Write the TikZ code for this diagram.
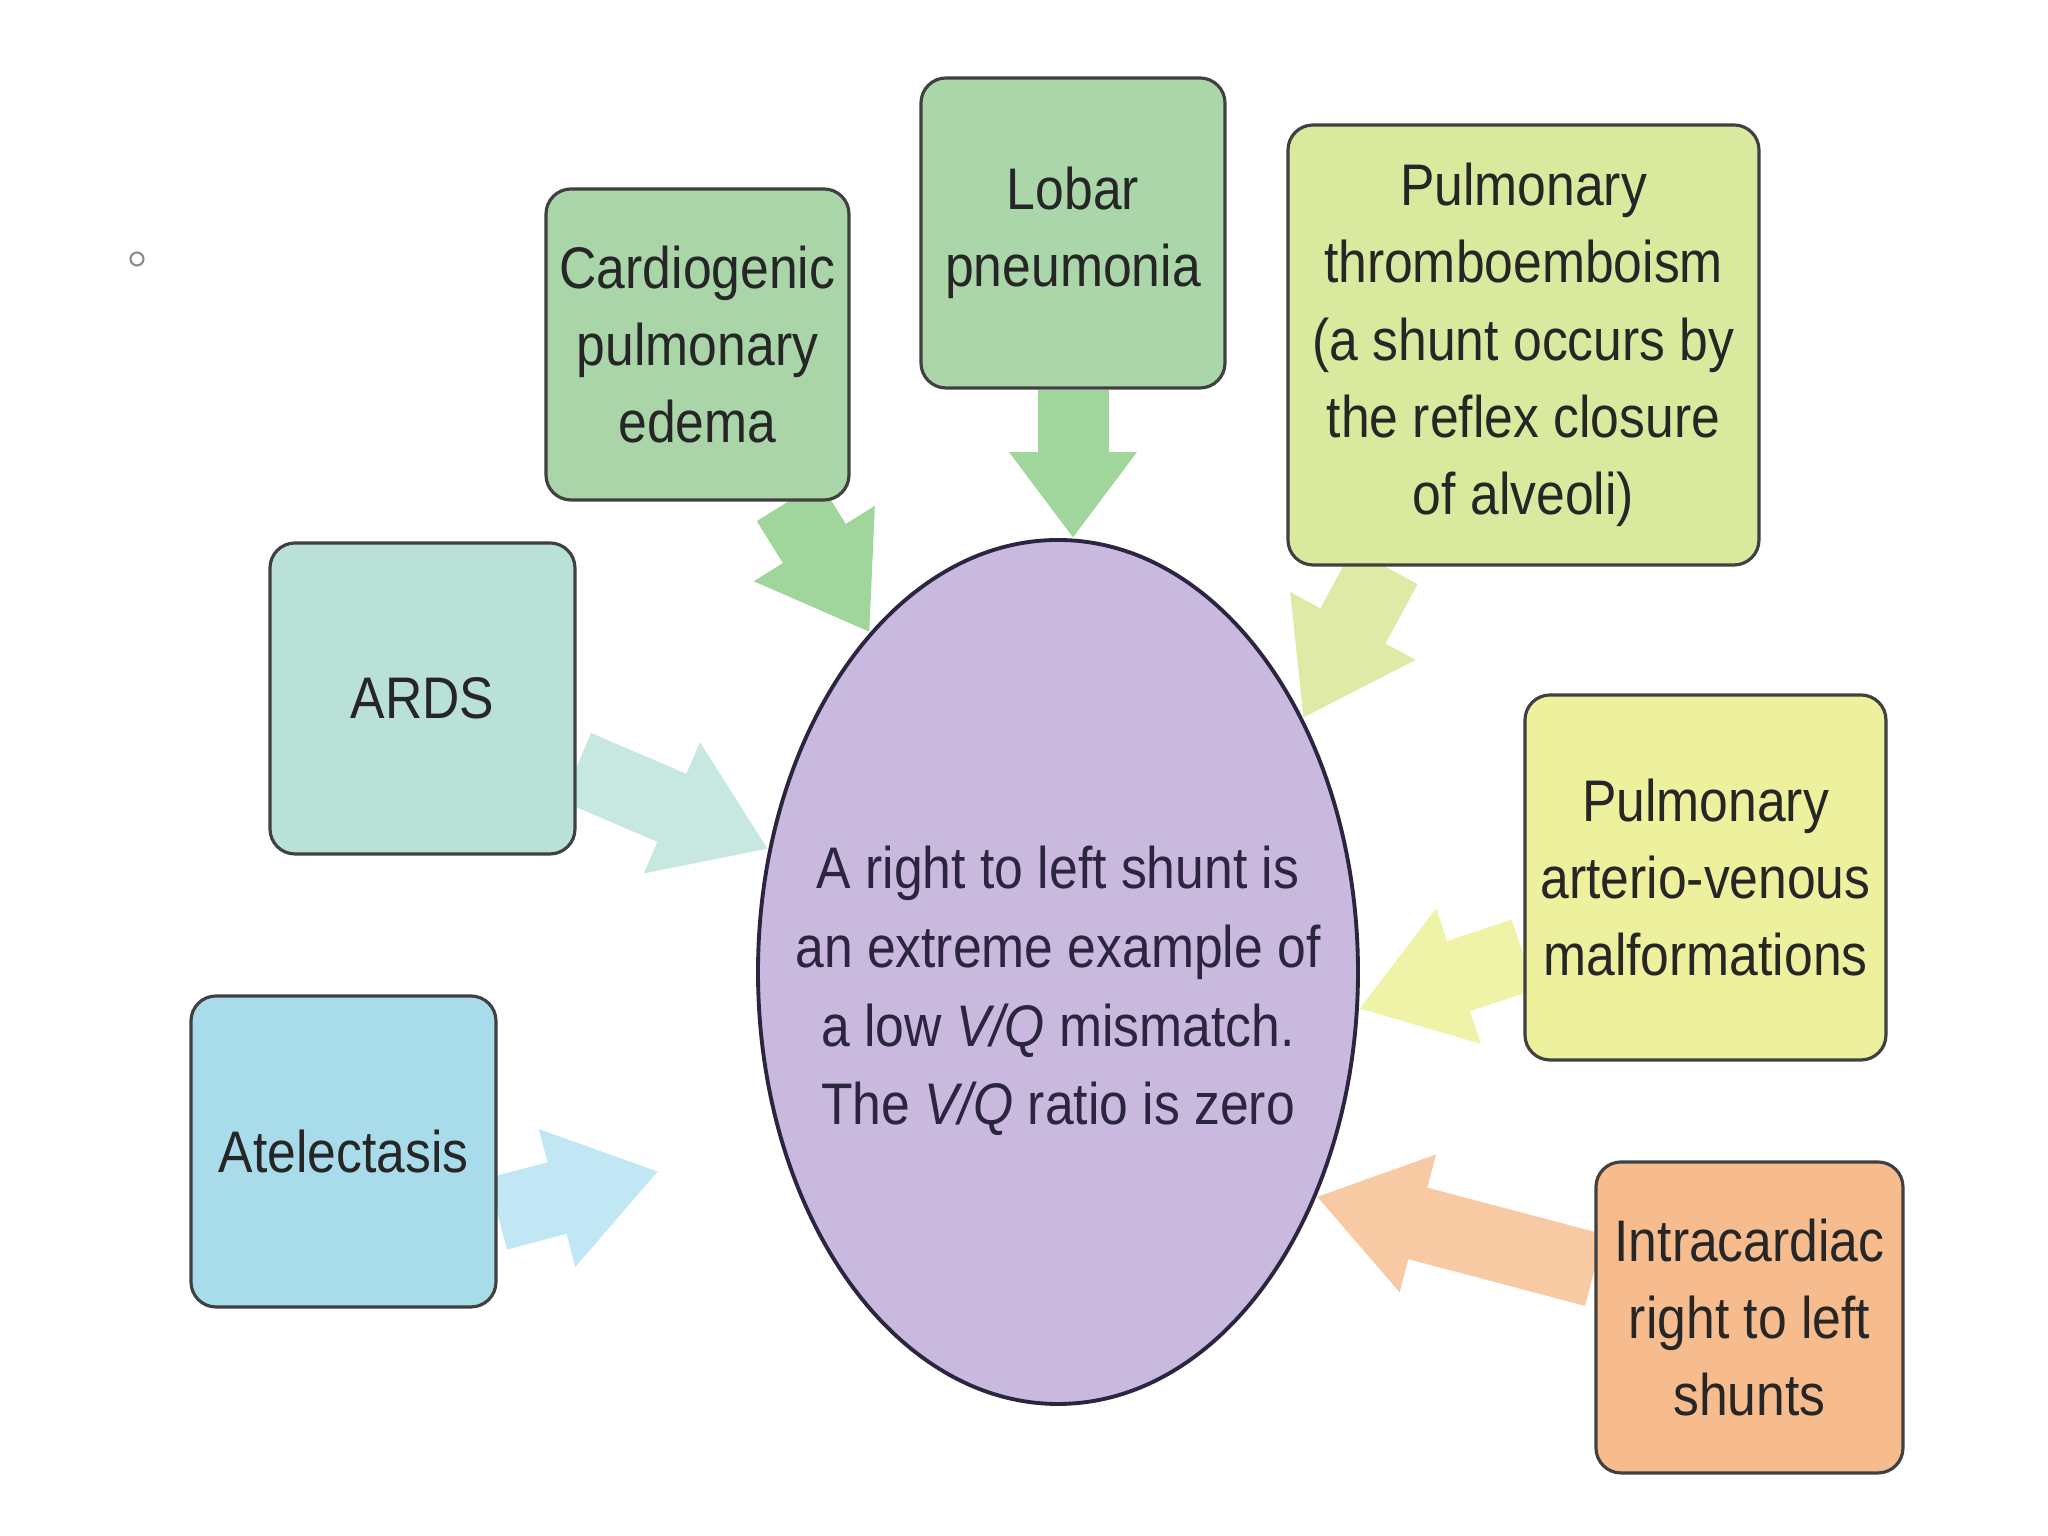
\documentclass[tikz,border=0pt]{standalone}
\usepackage{fontspec}
\setmainfont{Liberation Sans}[FakeStretch=0.88]
\usepackage{tikz}
\usetikzlibrary{arrows.meta,positioning,shapes.geometric,backgrounds}
\definecolor{cardfill}{HTML}{A9D5A9}
\definecolor{lobarfill}{HTML}{ABD6A9}
\definecolor{thrombofill}{HTML}{D9E99D}
\definecolor{ardsfill}{HTML}{B9E1D8}
\definecolor{atelfill}{HTML}{A9DCEB}
\definecolor{pavmfill}{HTML}{EDF09D}
\definecolor{intrafill}{HTML}{F6BC8D}
\definecolor{shuntfill}{HTML}{C9B9DF}
\definecolor{shuntline}{HTML}{2B2540}
\definecolor{arrgreen}{HTML}{A0D59C}
\definecolor{arrlime}{HTML}{DEEAA6}
\definecolor{arrteal}{HTML}{C7E8E1}
\definecolor{arrblue}{HTML}{C1E6F4}
\definecolor{arryellow}{HTML}{EFF3A8}
\definecolor{arrorange}{HTML}{F8CAA3}
\tikzset{
        cause/.style={draw=black!75, line width=0.9pt, rounded corners=2.5mm,
            align=center, text=black!85, inner sep=0pt,
            font=\fontsize{16.7}{22}\selectfont},
        feed/.style={line width=7.4mm, -{Triangle[width=13.5mm,length=10.5mm]}},
    }

\begin{document}
\begin{tikzpicture}
                \useasboundingbox (0,0) rectangle (20.48,15.36);
                \node[circle, draw=black!45, line width=0.6pt, minimum size=1.3mm, inner sep=0pt] (dot) at (1.37,12.77) {};
                % causes round the shunt
                \node[cause, fill=cardfill, minimum width=3.03cm, minimum height=3.11cm] (cardio) at (6.975,11.915) {Cardiogenic\\pulmonary\\edema};
                \node[cause, fill=lobarfill, minimum width=3.04cm, minimum height=3.10cm] (lobar) at (10.73,13.03) {Lobar\\pneumonia};
                \node[cause, fill=thrombofill, minimum width=4.71cm, minimum height=4.40cm] (thrombo) at (15.235,11.91) {Pulmonary\\thromboemboism\\(a shunt occurs by\\the reflex closure\\of alveoli)};
                \node[cause, fill=ardsfill, minimum width=3.05cm, minimum height=3.11cm] (ards) at (4.225,8.375) {ARDS};
                \node[cause, fill=atelfill, minimum width=3.05cm, minimum height=3.11cm] (atel) at (3.435,3.845) {Atelectasis};
                \node[cause, fill=pavmfill, minimum width=3.61cm, minimum height=3.65cm] (pavm) at (17.055,6.585) {Pulmonary\\arterio-venous\\malformations};
                \node[cause, fill=intrafill, minimum width=3.07cm, minimum height=3.11cm] (intra) at (17.495,2.185) {Intracardiac\\right to left\\shunts};
                % the shunt itself
                \node[ellipse, draw=shuntline, line width=1.1pt, fill=shuntfill, minimum width=6cm, minimum height=8.64cm, inner sep=0pt] (shunt) at (10.58,5.64) {};
                \node[align=center, text=shuntline, font=\fontsize{16.7}{22.4}\selectfont] (shunttext) at ([yshift=-1.9mm]shunt.center)
                    {A right to left shunt is\\an extreme example of\\a low \textit{V/Q} mismatch.\\The \textit{V/Q} ratio is zero};
                \begin{scope}[on background layer]
                    \fill[white] (0,0) rectangle (20.48,15.36);
                    \foreach \src/\sa/\ta/\col in {cardio/-60/119/arrgreen, thrombo/-122/46.4/arrlime,
                        ards/-24.2/157/arrteal, pavm/203.8/-7.5/arryellow, intra/163.5/-41.1/arrorange}
                        \draw[feed, draw=\col] (\src.\sa) -- (shunt.\ta);
                    \draw[line width=7.1mm, -{Triangle[width=12.2mm,length=8.6mm]}, draw=arrgreen] (lobar.south) -- (lobar.south |- shunt.north);
                    \draw[feed, draw=arrblue, shorten >=1.25cm] (atel.-22.9) -- (shunt.211.3);
                \end{scope}
\end{tikzpicture}
\end{document}
